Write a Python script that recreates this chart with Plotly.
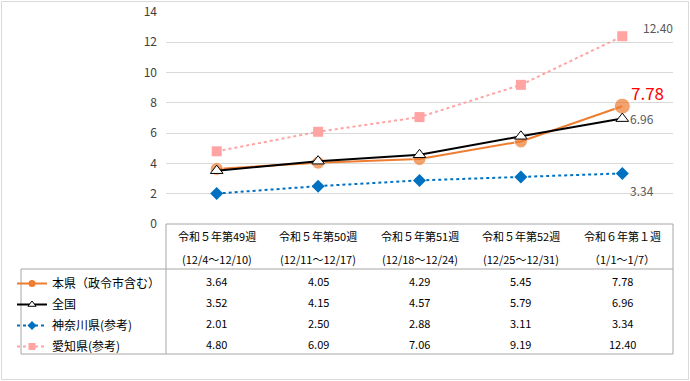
import plotly.graph_objects as go

# ---- data ----
weeks_line1 = ["令和５年第49週", "令和５年第50週", "令和５年第51週", "令和５年第52週", "令和６年第１週"]
weeks_line2 = ["(12/4～12/10)", "(12/11～12/17)", "(12/18～12/24)", "(12/25～12/31)", "（1/1～1/7）"]
series_names = ["本県（政令市含む）", "全国", "神奈川県(参考)", "愛知県(参考)"]
honken = [3.64, 4.05, 4.29, 5.45, 7.78]
zenkoku = [3.52, 4.15, 4.57, 5.79, 6.96]
kanagawa = [2.01, 2.50, 2.88, 3.11, 3.34]
aichi = [4.80, 6.09, 7.06, 9.19, 12.40]
y_ticks = [0, 2, 4, 6, 8, 10, 12, 14]

W, H = 690, 381
def px_x(x):
    return x / W
def px_y(y):
    return 1 - y / H

FONT = "Noto Sans CJK JP"
idx = list(range(len(weeks_line1)))

styles = {
    "honken": dict(line=dict(color="#ED7D31", width=2), symbol="circle", color="#ED7D31", mline=None),
    "zenkoku": dict(line=dict(color="#000000", width=2), symbol="triangle-up", color="#FFFFFF",
                    mline=dict(color="#000000", width=1)),
    "kanagawa": dict(line=dict(color="#0070C0", width=2, dash="dot"), symbol="diamond", color="#0070C0", mline=None),
    "aichi": dict(line=dict(color="#FFA3A3", width=2, dash="dot"), symbol="square", color="#FFA3A3", mline=None),
}

fig = go.Figure()
# data traces: draw order pink, blue, orange, black
fig.add_trace(go.Scatter(x=idx, y=aichi, name=series_names[3], mode="lines+markers",
                         line=styles["aichi"]["line"],
                         marker=dict(symbol="square", size=10, color="#FFA3A3"),
                         showlegend=False))
fig.add_trace(go.Scatter(x=idx, y=kanagawa, name=series_names[2], mode="lines+markers",
                         line=styles["kanagawa"]["line"],
                         marker=dict(symbol="diamond", size=10, color="#0070C0"),
                         showlegend=False))
fig.add_trace(go.Scatter(x=idx, y=honken, name=series_names[0], mode="lines+markers",
                         line=styles["honken"]["line"],
                         marker=dict(symbol="circle", size=[13, 13, 13, 13, 16], color="#ED7D31"),
                         showlegend=False))
fig.add_trace(go.Scatter(x=idx, y=zenkoku, name=series_names[1], mode="lines+markers",
                         line=styles["zenkoku"]["line"],
                         marker=dict(symbol="triangle-up", size=11, color="#FFFFFF",
                                     line=dict(color="#000000", width=1)),
                         showlegend=False))
# legend-only entries with small symbols (as in the table legend)
for name, key in zip(series_names, ["honken", "zenkoku", "kanagawa", "aichi"]):
    st = styles[key]
    mk = dict(symbol=st["symbol"], size=7, color=st["color"])
    if st["mline"]:
        mk["line"] = st["mline"]
    fig.add_trace(go.Scatter(x=[None], y=[None], name=name, mode="lines+markers",
                             line=st["line"], marker=mk, showlegend=True, legendgroup=key))

annotations = []
# end labels
annotations.append(dict(x=idx[-1], y=aichi[-1], xref="x", yref="y", text=f"{aichi[-1]:.2f}",
                        showarrow=False, xanchor="left", yanchor="middle", xshift=19, yshift=9,
                        font=dict(family=FONT, size=12, color="#595959")))
annotations.append(dict(x=idx[-1], y=honken[-1], xref="x", yref="y", text=f"{honken[-1]:.2f}",
                        showarrow=False, xanchor="left", yanchor="middle", xshift=7, yshift=14,
                        font=dict(family=FONT, size=17, color="#FF0000")))
annotations.append(dict(x=idx[-1], y=zenkoku[-1], xref="x", yref="y", text=f"{zenkoku[-1]:.2f}",
                        showarrow=False, xanchor="left", yanchor="middle", xshift=6, yshift=0,
                        font=dict(family=FONT, size=12, color="#595959")))
annotations.append(dict(x=idx[-1], y=kanagawa[-1], xref="x", yref="y", text=f"{kanagawa[-1]:.2f}",
                        showarrow=False, xanchor="left", yanchor="middle", xshift=6, yshift=-17,
                        font=dict(family=FONT, size=12, color="#595959")))

# table header
for i in idx:
    annotations.append(dict(x=i, y=px_y(236), xref="x", yref="paper", text=weeks_line1[i],
                            showarrow=False, xanchor="center", yanchor="middle",
                            font=dict(family=FONT, size=11, color="#000000")))
    annotations.append(dict(x=i, y=px_y(259), xref="x", yref="paper", text=weeks_line2[i],
                            showarrow=False, xanchor="center", yanchor="middle",
                            font=dict(family=FONT, size=11, color="#000000")))
# table values
row_y = [281, 302, 323, 344]
for r, vals in enumerate([honken, zenkoku, kanagawa, aichi]):
    for i in idx:
        annotations.append(dict(x=i, y=px_y(row_y[r]), xref="x", yref="paper", text=f"{vals[i]:.2f}",
                                showarrow=False, xanchor="center", yanchor="middle",
                                font=dict(family=FONT, size=11, color="#000000")))

bc = "#A6A6A6"
shapes = [
    dict(type="rect", xref="paper", yref="paper", x0=px_x(1.5), x1=px_x(688.5), y0=px_y(379.5), y1=px_y(1.5),
         line=dict(color="#D9D9D9", width=1)),
    dict(type="line", xref="paper", yref="paper", x0=px_x(166), x1=px_x(673), y0=px_y(224), y1=px_y(224), line=dict(color=bc, width=1)),
    dict(type="line", xref="paper", yref="paper", x0=px_x(21), x1=px_x(673), y0=px_y(269), y1=px_y(269), line=dict(color=bc, width=1)),
    dict(type="line", xref="paper", yref="paper", x0=px_x(21), x1=px_x(673), y0=px_y(354), y1=px_y(354), line=dict(color=bc, width=1)),
    dict(type="line", xref="paper", yref="paper", x0=px_x(166), x1=px_x(166), y0=px_y(224), y1=px_y(354), line=dict(color=bc, width=1)),
    dict(type="line", xref="paper", yref="paper", x0=px_x(673), x1=px_x(673), y0=px_y(224), y1=px_y(354), line=dict(color=bc, width=1)),
    dict(type="line", xref="paper", yref="paper", x0=px_x(21), x1=px_x(21), y0=px_y(269), y1=px_y(354), line=dict(color=bc, width=1)),
]

fig.update_layout(
    width=W, height=H,
    margin=dict(l=0, r=0, t=0, b=0, autoexpand=False),
    paper_bgcolor="white", plot_bgcolor="white",
    font=dict(family=FONT, size=12, color="#000000"),
    xaxis=dict(domain=[px_x(166), px_x(673)], range=[-0.5, 4.5], showgrid=False, zeroline=False,
               showticklabels=False, showline=False, fixedrange=True),
    yaxis=dict(domain=[px_y(224), px_y(12)], range=[0, 14], tickvals=y_ticks, showgrid=True,
               gridcolor="#D9D9D9", gridwidth=1, zeroline=False, showline=False,
               tickfont=dict(family=FONT, size=12, color="#404040"), ticklabelstandoff=8),
    legend=dict(x=px_x(12), y=px_y(269), xanchor="left", yanchor="top", bgcolor="rgba(0,0,0,0)",
                font=dict(family=FONT, size=12, color="#000000"), tracegroupgap=2,
                itemwidth=30, traceorder="grouped"),
    showlegend=True,
    annotations=annotations,
    shapes=shapes,
)

fig.write_html("out.html", config={"displayModeBar": False},
               post_script="document.body.style.margin='0';document.body.style.overflow='hidden';")
